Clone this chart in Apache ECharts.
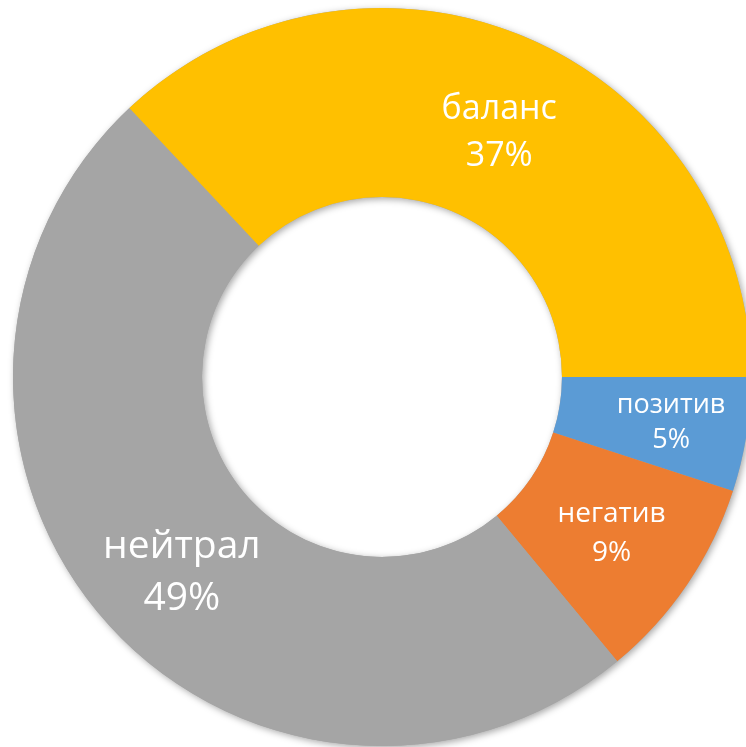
<!DOCTYPE html>
<html>
<head>
<meta charset="utf-8">
<script src="https://cdn.jsdelivr.net/npm/echarts@6/dist/echarts.min.js"></script>
<style>
  html, body { margin: 0; padding: 0; background: #fff; }
  #chart { width: 746px; height: 747px; }
</style>
</head>
<body>
<div id="chart"></div>
<script>
// clockwise from 3 o'clock
const names = ['позитив', 'негатив', 'нейтрал', 'баланс']
const values = [5, 9, 49, 37]
const colors = ['#5B9BD5', '#ED7D31', '#A5A5A5', '#FFC000']

// label look per slice (excel had them all different sizes)
const labelSizes = [27, 28, 39, 34]
const labelLines = [35, 39, 52, 47]
const labelShift = [[15, 2], [0, 1], [8, 12], [7, 10]]

const chart = echarts.init(document.getElementById('chart'))

const center = [382, 377]
const radius = [180, 369]

const data = names.map((n, i) => ({
  name: n,
  value: values[i],
  itemStyle: { color: colors[i] },
  label: {
    fontSize: labelSizes[i],
    lineHeight: labelLines[i],
    offset: labelShift[i]
  }
}))

chart.setOption({
  backgroundColor: '#fff',
  animation: false,
  series: [
    {
      // ring underneath just for the soft drop shadow
      type: 'pie',
      silent: true,
      center: center,
      radius: radius,
      z: 1,
      label: { show: false },
      itemStyle: {
        color: '#a5a5a5',
        shadowBlur: 7,
        shadowColor: 'rgba(0,0,0,0.35)',
        shadowOffsetX: 2,
        shadowOffsetY: 2
      },
      data: [{ value: 1, name: '' }]
    },
    {
      type: 'pie',
      center: center,
      radius: radius,
      startAngle: 0,
      clockwise: true,
      z: 2,
      itemStyle: { borderWidth: 0 },
      label: {
        show: true,
        position: 'inside',
        color: '#fff',
        fontFamily: '"Open Sans", sans-serif',
        formatter: '{b}\n{c}%'
      },
      labelLine: { show: false },
      data: data
    }
  ]
})
</script>
</body>
</html>
